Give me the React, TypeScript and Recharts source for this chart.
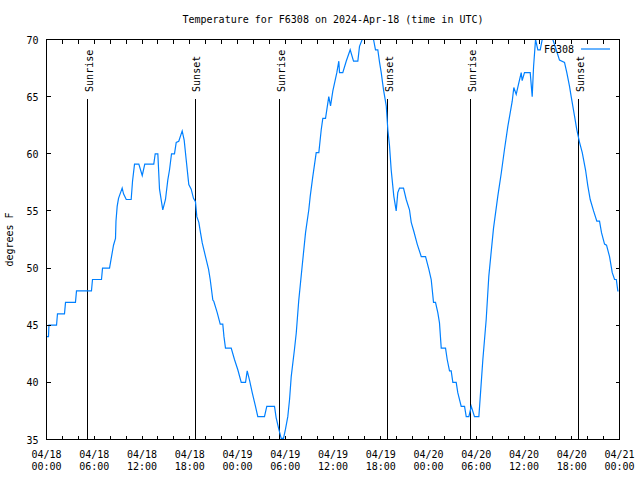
import React from "react";
import { LineChart, Line, XAxis, YAxis, ReferenceLine, Legend } from "recharts";

// hours since 2024-04-18 00:00 UTC
const hours = [
  0, 0.25, 0.31, 1.26, 1.38, 2.26, 2.39, 3.64, 3.77, 5.65,
  5.78, 6.91, 7.04, 7.92, 8.17, 8.42, 8.67, 8.73, 8.88, 9.05,
  9.51, 9.68, 10.02, 10.64, 10.81, 11.06, 11.6, 12.03, 12.35, 13.48,
  13.66, 13.99, 14.2, 14.61, 14.95, 15.24, 15.46, 15.71, 16.08, 16.3,
  16.62, 17.05, 17.3, 17.55, 17.88, 18.18, 18.47, 18.72, 18.89, 19.14,
  19.35, 19.57, 19.98, 20.36, 20.57, 20.9, 21.02, 21.45, 21.83, 22.15,
  22.3, 22.49, 23.21, 23.62, 24.04, 24.47, 25.01, 25.22, 25.51, 25.85,
  26.26, 26.55, 27.39, 27.68, 28.65, 28.86, 29.19, 29.49, 29.78, 30.03,
  30.32, 30.54, 30.75, 31.16, 31.38, 31.7, 32.13, 32.55, 32.63, 32.96,
  33.14, 33.46, 33.89, 34.22, 34.52, 34.72, 35.06, 35.47, 35.69, 35.98,
  36.48, 36.73, 36.82, 37.23, 37.66, 38.16, 38.58, 39.12, 39.33, 39.67,
  40.09, 40.71, 41.09, 41.34, 41.63, 41.85, 42.06, 42.35, 42.69, 42.89,
  43.1, 43.31, 43.64, 43.94, 44.14, 44.36, 44.86, 45.2, 45.61, 45.83,
  46.16, 46.58, 47.09, 47.63, 48.04, 48.34, 48.63, 48.88, 49.17, 49.38,
  49.6, 50.14, 50.35, 50.64, 50.85, 51.06, 51.48, 51.68, 52.11, 52.53,
  52.74, 53.07, 53.37, 53.78, 54.33, 54.54, 54.83, 55.25, 55.58, 56.17,
  56.71, 57.14, 57.55, 57.97, 58.27, 58.52, 58.72, 59.02, 59.35, 59.65,
  59.77, 60.06, 60.78, 61.03, 61.2, 61.45, 61.74, 62.04, 62.29, 62.7,
  63.21, 63.62, 64.05, 64.46, 65.09, 65.38, 65.72, 65.93, 66.35, 66.64,
  66.98, 67.32, 67.73, 68.02, 68.32, 68.74, 69.15, 69.49, 69.74, 70.12,
  70.37, 70.75, 71.09, 71.38, 71.6, 71.79, 71.88,
];

// degrees F
const temps = [
  44, 44, 45, 45, 46, 46, 47, 47, 48, 48,
  49, 49, 50, 50, 51, 52, 52.6, 54.1, 55.4, 56.1,
  57.0, 56.5, 56, 56, 57.6, 59.1, 59.1, 58.1, 59.1, 59.1,
  60, 60, 56.9, 55.1, 56.0, 57.7, 58.6, 60, 60, 61.0,
  61.1, 62.0, 61.2, 59.5, 57.3, 56.9, 56.1, 55.8, 54.5, 54.0,
  53.1, 52.2, 51.0, 49.9, 49.0, 47.2, 47.1, 46.1, 45.1, 45.1,
  44, 43.0, 43.0, 42.0, 41.1, 40.0, 40.0, 41.0, 40.2, 39.1,
  37.9, 37.0, 37.0, 37.9, 37.9, 36.9, 35.9, 35.1, 35.1, 35.9,
  37.0, 38.5, 40.5, 42.9, 44.3, 47.2, 50.2, 53.1, 53.5, 55.1,
  56.3, 58.0, 60.1, 60.1, 62.1, 63.1, 63.1, 65.0, 64.2, 65.5,
  67.1, 68.1, 67.1, 67.1, 68.1, 69.1, 68.1, 68.1, 69.4, 70.0,
  70.6, 70.6, 70.0, 69.1, 69.1, 68.0, 67.1, 65.6, 64.2, 62.1,
  60.7, 58.6, 56.3, 55.0, 56.6, 57.0, 57.0, 56.0, 55.1, 54.0,
  53.2, 52.1, 51.0, 51.0, 49.9, 49.0, 47.0, 47.0, 46.1, 45.2,
  43.0, 43.0, 42.0, 41.0, 41.0, 40.0, 40.0, 39.1, 37.9, 37.9,
  37.0, 37.0, 37.9, 37.0, 37.0, 39.1, 42.0, 45.5, 49.3, 53.5,
  56.3, 58.3, 60.4, 62.4, 63.6, 64.6, 65.8, 65.2, 66.2, 67.1,
  66.4, 67.1, 67.1, 65.0, 67.6, 70.0, 69.1, 69.1, 70.0, 70.7,
  70.5, 70.0, 69.1, 68.2, 68.0, 67.1, 65.9, 65.0, 63.3, 62.1,
  61.0, 60.1, 58.6, 57.2, 56.0, 55.0, 54.1, 54.1, 53.1, 52.1,
  52, 51.0, 49.6, 49.0, 49.0, 48.0, 48.0,
];

const xTicks = [
  0, 2, 4, 6, 8, 10, 12, 14, 16, 18, 20, 22, 24, 26, 28, 30, 32, 34, 36,
  38, 40, 42, 44, 46, 48, 50, 52, 54, 56, 58, 60, 62, 64, 66, 68, 70, 72,
];
const xDates = ["04/18", "04/18", "04/18", "04/18", "04/19", "04/19", "04/19", "04/19", "04/20", "04/20", "04/20", "04/20", "04/21"];
const xTimes = ["00:00", "06:00", "12:00", "18:00", "00:00", "06:00", "12:00", "18:00", "00:00", "06:00", "12:00", "18:00", "00:00"];
const yTicks = [35, 40, 45, 50, 55, 60, 65, 70];

const xMin = 0;
const xMax = 72;
const yMin = 35;
const yMax = 70;

const sunHours = [5.19, 18.72, 29.28, 42.89, 53.32, 66.89];
const sunNames = ["Sunrise", "Sunset", "Sunrise", "Sunset", "Sunrise", "Sunset"];
const sunLineTop = 64.8;

const data = hours.map((h, i) => ({ h, t: temps[i] }));

const font = '"DejaVu Sans Mono", "Liberation Mono", monospace';
const lineColor = "#0080ff";
const tickLen = 4;

// plot box, shared by the chart margins and the frame overlay
const W = 640;
const H = 480;
const box = { left: 46.5, top: 39.5, right: 619.5, bottom: 439.5 };
const px = (h: number) => box.left + ((h - xMin) / (xMax - xMin)) * (box.right - box.left);
const py = (v: number) => box.bottom - ((v - yMin) / (yMax - yMin)) * (box.bottom - box.top);

function BottomTick({ x, y, payload }: any) {
  const i = payload.value / 6;
  if (!Number.isInteger(i)) return <g />;
  return (
    <text x={x} y={y + 18} textAnchor="middle" fontFamily={font} fontSize={10} fill="#000">
      <tspan x={x}>{xDates[i]}</tspan>
      <tspan x={x} dy={12}>{xTimes[i]}</tspan>
    </text>
  );
}

function LeftTick({ x, y, payload }: any) {
  return (
    <text x={x - 8} y={y + 4} textAnchor="end" fontFamily={font} fontSize={10} fill="#000">
      {payload.value}
    </text>
  );
}

function sunLabel(name: string) {
  return (props: any) => {
    const vb = props.viewBox || {};
    const x = vb.x + 5;
    const y = vb.y - 7;
    return (
      <text
        transform={`translate(${x},${y}) rotate(-90)`}
        textAnchor="start"
        fontFamily={font}
        fontSize={10}
        fill="#000"
      >
        {name}
      </text>
    );
  };
}

function TitleLabel(props: any) {
  const vb = props.viewBox || {};
  const cx = vb.x + vb.width / 2;
  return (
    <text x={cx} y={23} textAnchor="middle" fontFamily={font} fontSize={10} fill="#000">
      Temperature for F6308 on 2024-Apr-18 (time in UTC)
    </text>
  );
}

function YLabel() {
  return (
    <text transform="translate(13,239.5) rotate(-90)" textAnchor="middle" fontFamily={font} fontSize={10} fill="#000">
      degrees F
    </text>
  );
}

function KeyBox() {
  return (
    <svg width={80} height={20} style={{ display: "block" }}>
      <text x={34} y={14} textAnchor="end" fontFamily={font} fontSize={10} fill="#000">
        F6308
      </text>
      <line x1={41} y1={10} x2={70} y2={10} stroke={lineColor} strokeWidth={1.2} />
    </svg>
  );
}

// gnuplot-style border with inward tics on all four sides
function Frame() {
  const s = { stroke: "#000", strokeWidth: 1, shapeRendering: "crispEdges" as const };
  return (
    <svg width={W} height={H} style={{ position: "absolute", left: 0, top: 0, pointerEvents: "none" }}>
      <rect x={box.left} y={box.top} width={box.right - box.left} height={box.bottom - box.top} fill="none" {...s} />
      {xTicks.map((h) => (
        <g key={"x" + h}>
          <line x1={px(h)} y1={box.bottom} x2={px(h)} y2={box.bottom - tickLen} {...s} />
          <line x1={px(h)} y1={box.top} x2={px(h)} y2={box.top + tickLen} {...s} />
        </g>
      ))}
      {yTicks.map((v) => (
        <g key={"y" + v}>
          <line x1={box.left} y1={py(v)} x2={box.left + tickLen} y2={py(v)} {...s} />
          <line x1={box.right} y1={py(v)} x2={box.right - tickLen} y2={py(v)} {...s} />
        </g>
      ))}
    </svg>
  );
}

const axisLine = { stroke: "#000", strokeWidth: 1, shapeRendering: "crispEdges" };

export default function App() {
  return (
    <div style={{ position: "absolute", left: 0, top: 0, width: W, height: H, background: "#fff" }}>
      <LineChart
        width={W}
        height={H}
        data={data}
        margin={{ top: box.top, right: W - box.right, bottom: 0, left: 0 }}
      >
        <XAxis
          dataKey="h"
          type="number"
          domain={[xMin, xMax]}
          allowDataOverflow
          ticks={xTicks}
          interval={0}
          height={H - box.bottom}
          tickSize={0}
          tickMargin={0}
          tickLine={false}
          axisLine={axisLine}
          tick={<BottomTick />}
          label={TitleLabel}
        />
        <YAxis
          type="number"
          domain={[yMin, yMax]}
          allowDataOverflow
          ticks={yTicks}
          interval={0}
          width={box.left}
          tickSize={0}
          tickMargin={0}
          tickLine={false}
          axisLine={axisLine}
          tick={<LeftTick />}
          label={YLabel}
        />
        {sunHours.map((h, i) => (
          <ReferenceLine
            key={i}
            segment={[
              { x: h, y: yMin },
              { x: h, y: sunLineTop },
            ]}
            stroke="#000"
            strokeWidth={1}
            shapeRendering="crispEdges"
            label={sunLabel(sunNames[i])}
          />
        ))}
        <Line
          type="linear"
          dataKey="t"
          stroke={lineColor}
          strokeWidth={1.2}
          dot={false}
          activeDot={false}
          isAnimationActive={false}
        />
        <Legend
          layout="vertical"
          align="center"
          verticalAlign="middle"
          wrapperStyle={{ left: 540, top: 39, width: 80, height: 20 }}
          content={() => <KeyBox />}
        />
      </LineChart>
      <Frame />
    </div>
  );
}
